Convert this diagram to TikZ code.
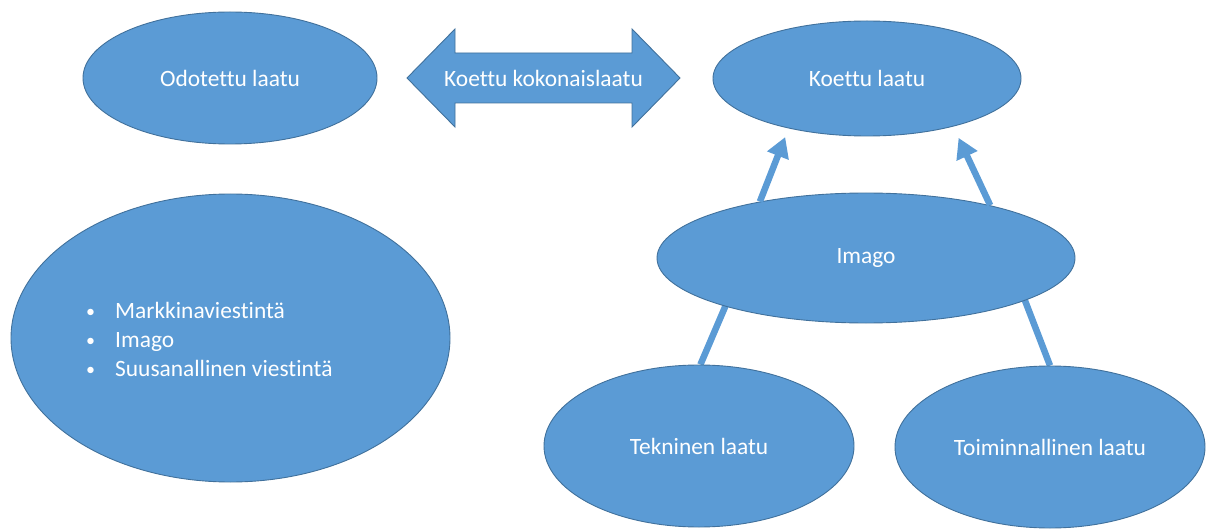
\documentclass[tikz,border=0pt]{standalone}
\usepackage{fontspec}
\setmainfont[Ligatures=NoCommon]{Carlito}
\usetikzlibrary{shapes.geometric,arrows.meta,backgrounds}
\definecolor{bubble}{HTML}{5B9BD5}
\definecolor{rim}{HTML}{41719C}
\tikzset{
  bubble/.style={ellipse, fill=bubble, draw=rim, line width=0.9pt, inner sep=0pt,
    text=white, font=\fontsize{23.4}{29}\selectfont},
  label/.style={text=white, font=\fontsize{23.4}{29}\selectfont, inner sep=0pt},
  link/.style={draw=bubble, line width=6.5pt},
  pointer/.style={link, -{Triangle[width=22pt,length=20pt]}},
}
\newcommand{\listdot}{\makebox[30pt][l]{\hspace{1pt}\raisebox{1pt}{\fontsize{18}{29}\selectfont •}}}
\begin{document}
\begin{tikzpicture}[x=1pt,y=-1pt]
\useasboundingbox (0,0) rectangle (1206,529);

% quality bubbles
\node[bubble, minimum width=294pt, minimum height=132pt] (odotettu) at (230,78) {Odotettu laatu};
\node[bubble, minimum width=308pt, minimum height=115pt] (koettu) at (867,78.5) {Koettu laatu};
\node[bubble, minimum width=439pt, minimum height=288pt] (viestinta) at (230.5,338) {};
\node[label, anchor=west, align=left] (lista) at (85,339)
  {\listdot Markkinaviestintä\\
   \listdot Imago\\
   \listdot Suusanallinen viestintä};
\node[bubble, minimum width=418pt, minimum height=130pt] (imago) at (866,258) {Imago};
\node[bubble, minimum width=310pt, minimum height=162pt] (tekninen) at (699,446) {Tekninen laatu};
\node[bubble, minimum width=310pt, minimum height=162pt] (toiminnallinen) at (1050,447) {Toiminnallinen laatu};

% two-headed block arrow between expected and experienced quality
\filldraw[fill=bubble, draw=rim, line width=0.9pt]
  (407,78) -- (455,29) -- (455,53) -- (632,53) -- (632,29) -- (680,78)
  -- (632,127) -- (632,103) -- (455,103) -- (455,127) -- cycle;
\node[label] (kokonais) at (543.5,78) {Koettu kokonaislaatu};

% image feeds experienced quality
\draw[pointer] (imago.152) -- ([yshift=-9.4pt]koettu.211.5);
\draw[pointer] (imago.23.3) -- ([yshift=-12.7pt]koettu.333.8);

% technical and functional quality feed the image (heads hidden behind it)
\begin{pgfonlayer}{background}
  \draw[pointer, shorten >=-26pt] (tekninen.89) -- (imago.199);
  \draw[pointer, shorten >=-26pt] (toiminnallinen.90) -- (imago.345);
\end{pgfonlayer}
\end{tikzpicture}
\end{document}
